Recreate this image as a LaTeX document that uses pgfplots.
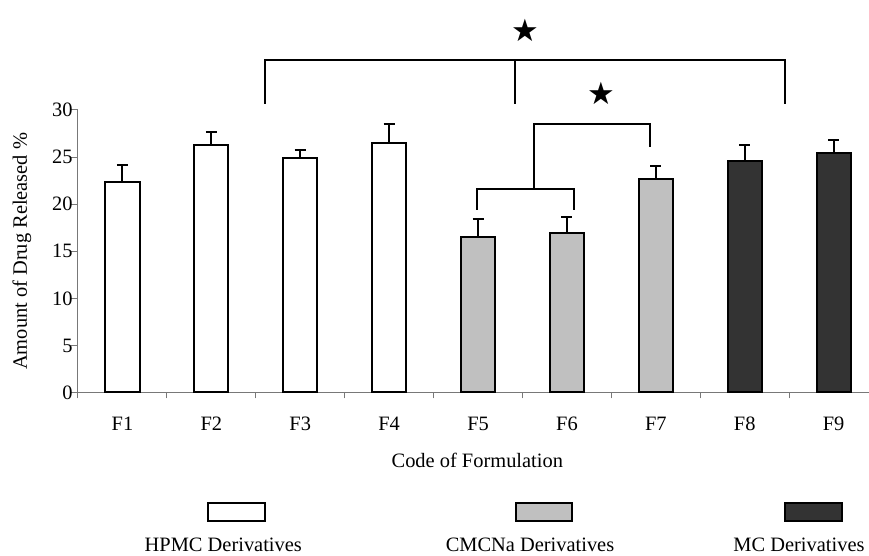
\documentclass[border=0pt]{standalone}
\usepackage{fontspec}
\setmainfont{Liberation Serif}
\newfontfamily\symfont{DejaVu Sans}
\usepackage{pgfplots}
\pgfplotsset{compat=1.18}
\usepackage{pgfplotstable}
\definecolor{lightbar}{RGB}{192,192,192}
\definecolor{darkbar}{RGB}{51,51,51}
\definecolor{axgray}{RGB}{120,120,120}

\pgfplotstableread{
x y e
1 22.4 1.8
2 26.3 1.35
3 24.9 0.9
4 26.45 2.05
}\hpmc
\pgfplotstableread{
x y e
5 16.5 1.9
6 16.9 1.75
7 22.7 1.4
}\cmcna
\pgfplotstableread{
x y e
8 24.6 1.7
9 25.4 1.4
}\mc

\pgfplotsset{
  mybar/.style={ybar, bar width=0.385, bar shift=0pt, draw=black, line width=2bp,
    error bars/y dir=plus, error bars/y explicit,
    error bars/error bar style={line width=2bp, black},
    error bars/error mark=-,
    error bars/error mark options={line width=2bp, mark size=5.5bp, black, rotate=90}},
}

\begin{document}
\begin{tikzpicture}[x=1bp,y=1bp]
\begin{axis}[
  at={(0,0)}, anchor=south west,
  scale only axis, width=791bp, height=282.5bp,
  xmin=0.5, xmax=9.398, ymin=0, ymax=30,
  clip=false,
  axis x line=bottom, axis y line=left,
  axis line style={-, draw=axgray, line width=1bp},
  xtick={1,...,9}, xticklabels={F1,F2,F3,F4,F5,F6,F7,F8,F9},
  minor xtick={0.5,1.5,...,8.5},
  ytick={0,5,...,30},
  tick align=outside,
  major tick length=7bp, minor tick length=6bp,
  tick style={draw=axgray, line width=1bp},
  major x tick style={draw=none},
  /pgf/number format/assume math mode=true,
  tick label style={font=\fontsize{20.5}{24}\selectfont},
  label style={font=\fontsize{20.5}{24}\selectfont},
  xticklabel style={anchor=base, yshift=-31bp},
  yticklabel style={xshift=5bp},
  xlabel={Code of Formulation},
  xlabel style={at={(axis description cs:0.5048,0)}, anchor=base, yshift=-74.8bp},
  ylabel={Amount of Drug Released \%},
  ylabel style={at={(axis description cs:-0.0708,0.5)}, anchor=center},
]
\addplot[mybar, fill=white] table[x=x, y=y, y error=e]{\hpmc};
\addplot[mybar, fill=lightbar] table[x=x, y=y, y error=e]{\cmcna};
\addplot[mybar, fill=darkbar] table[x=x, y=y, y error=e]{\mc};

% significance brackets
\draw[line width=2bp] (axis cs:2.606,30.68) -- (axis cs:2.606,35.31) -- (axis cs:8.448,35.31) -- (axis cs:8.448,30.68);
\draw[line width=2bp] (axis cs:5.418,35.31) -- (axis cs:5.418,30.68);
\draw[line width=2bp] (axis cs:4.986,19.38) -- (axis cs:4.986,21.64) -- (axis cs:6.076,21.64) -- (axis cs:6.076,19.38);
\draw[line width=2bp] (axis cs:5.635,21.64) -- (axis cs:5.635,28.48) -- (axis cs:6.934,28.48) -- (axis cs:6.934,26.12);
\node[font=\symfont\fontsize{31}{31}\selectfont, inner sep=0pt] at (axis cs:5.528,38.5) {★};
\node[font=\symfont\fontsize{31}{31}\selectfont, inner sep=0pt] at (axis cs:6.392,31.75) {★};
\end{axis}
% legend
\draw[line width=2bp, fill=white] (130.3,-110.8) rectangle (187,-128.2);
\draw[line width=2bp, fill=lightbar] (438,-110.8) rectangle (494.3,-128.2);
\draw[line width=2bp, fill=darkbar] (707,-110.8) rectangle (763.7,-128.2);
\begin{scope}[every node/.style={font=\fontsize{20.5}{24}\selectfont, anchor=base, inner sep=0pt}]
\node at (145.3,-159.3) {HPMC Derivatives};
\node at (452,-159.3) {CMCNa Derivatives};
\node at (721,-159.3) {MC Derivatives};
\end{scope}
\pgfresetboundingbox
\path[use as bounding box] (-78,-163.5) rectangle (791,392.5);
\end{tikzpicture}
\end{document}
